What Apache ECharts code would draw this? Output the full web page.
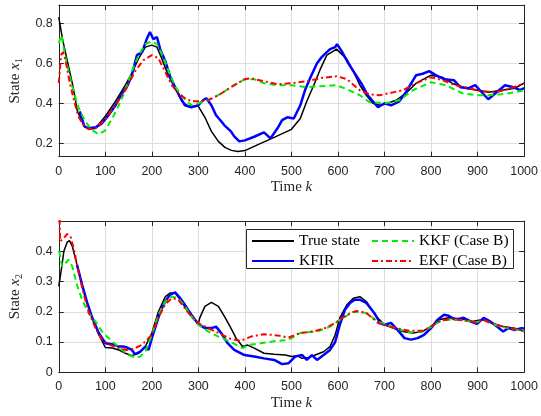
<!DOCTYPE html>
<html><head><meta charset="utf-8">
<script src="https://cdn.jsdelivr.net/npm/echarts@6/dist/echarts.min.js"></script>
<style>html,body{margin:0;padding:0;background:#fff}#c{width:541px;height:416px}</style>
</head><body><div id="c"></div>
<script>
// ---------- data (top: state x1) ----------
const xTickValues = [0,100,200,300,400,500,600,700,800,900,1000];
const yTicksTop = [0.2,0.4,0.6,0.8];
const yTicksBot = [0,0.1,0.2,0.3,0.4];
const seriesNames = ['True state','KFIR','KKF (Case B)','EKF (Case B)'];

const topTrueK = [0,8,19,30,40,55,65,79,100,122,143,157,172,186,200,211,221,235,250,264,279,300,314,328,343,357,371,385,400,434,463,500,519,533,548,562,576,597,619,633,647,661,675,690,700,725,746,768,800,824,845,874,900,923,952,980,1000];
const topTrueV = [0.83,0.72,0.605,0.49,0.36,0.285,0.27,0.275,0.335,0.41,0.49,0.55,0.625,0.68,0.69,0.68,0.625,0.54,0.475,0.41,0.385,0.385,0.33,0.26,0.21,0.18,0.165,0.159,0.164,0.20,0.23,0.27,0.324,0.41,0.49,0.57,0.64,0.67,0.62,0.56,0.49,0.44,0.40,0.39,0.395,0.415,0.45,0.50,0.54,0.53,0.50,0.475,0.465,0.455,0.465,0.475,0.50];

const topFirK = [45,55,65,79,93,107,122,136,146,157,168,179,189,196,203,211,218,229,239,250,261,271,285,300,310,317,328,338,349,356,370,377,388,400,420,441,455,470,480,491,505,519,530,541,555,565,576,583,594,598,608,622,633,650,664,675,686,700,714,732,746,768,782,796,810,828,849,863,881,895,909,923,941,959,977,991,1000];
const topFirV = [0.36,0.285,0.275,0.28,0.30,0.34,0.39,0.45,0.48,0.54,0.64,0.655,0.72,0.755,0.72,0.73,0.67,0.61,0.535,0.48,0.43,0.39,0.38,0.39,0.415,0.425,0.39,0.34,0.31,0.29,0.26,0.235,0.21,0.215,0.233,0.255,0.225,0.275,0.316,0.33,0.324,0.39,0.47,0.53,0.60,0.63,0.655,0.67,0.68,0.695,0.66,0.60,0.56,0.50,0.44,0.41,0.38,0.40,0.39,0.41,0.455,0.54,0.547,0.56,0.54,0.52,0.515,0.48,0.475,0.49,0.455,0.42,0.455,0.49,0.48,0.465,0.475];

const topKkfK = [0,6,12,23,33,43,57,72,86,100,115,129,143,157,172,186,200,211,225,239,254,271,285,300,321,350,377,400,420,441,470,500,533,562,597,619,647,668,700,732,761,800,832,867,900,923,952,980,1000];
const topKkfV = [0.70,0.74,0.655,0.54,0.45,0.375,0.31,0.265,0.245,0.265,0.325,0.39,0.465,0.56,0.64,0.695,0.71,0.695,0.63,0.54,0.47,0.42,0.39,0.40,0.415,0.45,0.49,0.52,0.52,0.50,0.49,0.49,0.48,0.485,0.49,0.47,0.44,0.405,0.40,0.415,0.465,0.505,0.49,0.45,0.44,0.44,0.445,0.455,0.465];

const topEkfK = [0,5,9,14,23,33,43,55,65,79,100,122,143,164,182,200,214,229,243,257,271,285,300,321,343,370,385,400,412,441,470,500,533,562,597,619,647,668,689,700,739,768,800,824,853,881,909,937,966,1000];
const topEkfV = [0.50,0.64,0.655,0.62,0.51,0.41,0.33,0.285,0.27,0.275,0.32,0.39,0.465,0.56,0.615,0.64,0.625,0.555,0.49,0.45,0.425,0.41,0.41,0.415,0.44,0.48,0.50,0.52,0.525,0.51,0.495,0.50,0.51,0.525,0.535,0.52,0.465,0.445,0.44,0.445,0.465,0.50,0.53,0.515,0.49,0.475,0.46,0.455,0.47,0.50];

// ---------- data (bottom: state x2) ----------
const botTrueK = [0,6,11,18,23,29,39,50,61,72,86,100,115,129,143,157,172,186,200,214,229,239,250,264,279,300,303,314,328,343,356,370,381,395,406,420,441,463,487,500,512,523,537,551,569,583,594,604,619,633,647,661,668,682,700,718,739,761,782,800,817,838,867,888,909,931,952,980,1000];
const botTrueV = [0.284,0.345,0.40,0.43,0.435,0.417,0.356,0.29,0.23,0.18,0.124,0.082,0.08,0.074,0.063,0.055,0.063,0.085,0.13,0.20,0.25,0.262,0.262,0.234,0.196,0.16,0.18,0.218,0.231,0.218,0.185,0.146,0.113,0.085,0.09,0.08,0.063,0.06,0.057,0.052,0.055,0.046,0.049,0.057,0.068,0.085,0.124,0.18,0.223,0.245,0.25,0.234,0.218,0.185,0.157,0.146,0.135,0.13,0.135,0.152,0.174,0.18,0.176,0.168,0.174,0.163,0.152,0.146,0.135];

const botFirK = [39,50,61,72,86,100,115,129,139,146,157,164,175,186,193,200,207,218,229,239,250,261,271,285,300,314,328,338,349,363,377,399,420,441,463,480,494,508,523,533,544,555,569,583,594,604,615,626,636,647,661,678,691,700,714,728,743,757,771,785,800,814,828,838,852,870,885,899,913,927,941,955,966,980,994,1000];
const botFirV = [0.356,0.29,0.23,0.18,0.13,0.096,0.093,0.085,0.085,0.082,0.074,0.06,0.068,0.085,0.074,0.113,0.146,0.20,0.234,0.256,0.264,0.245,0.223,0.19,0.159,0.146,0.146,0.151,0.13,0.096,0.074,0.057,0.052,0.046,0.041,0.027,0.03,0.052,0.057,0.041,0.057,0.041,0.057,0.074,0.10,0.157,0.207,0.229,0.24,0.24,0.229,0.196,0.162,0.157,0.163,0.14,0.113,0.108,0.113,0.124,0.146,0.174,0.19,0.187,0.174,0.18,0.168,0.16,0.18,0.168,0.152,0.135,0.146,0.14,0.146,0.145];

const botKkfK = [1,7,14,21,29,39,50,64,79,93,107,122,136,150,164,175,186,200,214,229,243,257,271,285,300,321,343,370,395,406,434,470,494,519,555,583,604,633,661,686,700,725,753,782,800,821,845,874,895,913,931,952,980,1000];
const botKkfV = [0.40,0.35,0.36,0.372,0.35,0.29,0.24,0.196,0.168,0.135,0.113,0.093,0.074,0.057,0.049,0.052,0.068,0.124,0.19,0.234,0.25,0.245,0.218,0.185,0.157,0.135,0.118,0.10,0.08,0.09,0.096,0.104,0.107,0.13,0.135,0.151,0.173,0.20,0.196,0.168,0.16,0.145,0.132,0.135,0.15,0.17,0.175,0.17,0.165,0.172,0.16,0.15,0.142,0.135];

const botEkfK = [0,3,11,18,25,32,43,54,64,79,93,111,129,146,160,178,200,214,229,243,257,271,285,300,321,343,370,391,413,441,470,494,519,548,576,597,619,640,661,686,700,725,753,782,800,821,845,874,895,913,931,952,980,1000];
const botEkfV = [0.60,0.433,0.444,0.457,0.45,0.41,0.328,0.256,0.20,0.146,0.107,0.09,0.08,0.074,0.077,0.09,0.124,0.18,0.225,0.245,0.24,0.212,0.185,0.162,0.146,0.13,0.11,0.104,0.118,0.126,0.122,0.115,0.13,0.135,0.148,0.166,0.19,0.203,0.196,0.163,0.157,0.146,0.137,0.137,0.152,0.171,0.176,0.171,0.165,0.174,0.16,0.152,0.143,0.14];

// ---------- build ----------
const pairs = (ks, vs) => ks.map((k, i) => [k, vs[i]]);
const INK = '#262626';
const TICKFONT = 'Liberation Sans, Arial, sans-serif';
const SERIF = 'Liberation Serif, Times New Roman, serif';
const styles = [
  {color:'#000000', width:1.5, type:'solid'},
  {color:'#0000ff', width:2.5, type:'solid'},
  {color:'#00ee00', width:2, type:[6,4]},
  {color:'#ff0000', width:2, type:[6,3,2,3]}
];
const fmt = v => String(Math.round(v * 1000) / 1000);

function mkSeries(gi, ksList, vsList) {
  return ksList.map((ks, i) => ({
    type:'line', name: seriesNames[i], xAxisIndex: gi*2, yAxisIndex: gi*2,
    data: pairs(ks, vsList[i]), symbol:'none', showSymbol:false, animation:false,
    lineStyle: {color: styles[i].color, width: styles[i].width, type: styles[i].type},
    itemStyle: {color: styles[i].color},
    clip: true, z: 2 + i*0.01
  }));
}

const axisNameRich = {
  t:{fontFamily:SERIF, fontSize:15, color:INK},
  i:{fontFamily:SERIF, fontSize:15, fontStyle:'italic', color:INK},
  s:{fontFamily:SERIF, fontSize:10, color:INK, padding:[8,0,0,0]}
};

function mkX(gi, pos) {
  const main = pos === 'bottom';
  return {
    type:'value', gridIndex:gi, position:pos, min:0, max:1000, interval:100,
    axisLine:{show:true, onZero:false, lineStyle:{color:INK, width:1}},
    axisTick:{show:true, inside:true, length:5, lineStyle:{color:INK}},
    axisLabel:{show:main, color:INK, fontFamily:TICKFONT, fontSize:12.5, margin:8, formatter:fmt},
    splitLine:{show:main, lineStyle:{color:'#dedede', width:1}},
    name: main ? '{t|Time }{i|k}' : '', nameLocation:'middle', nameGap:23,
    nameTextStyle:{rich: axisNameRich}
  };
}
function mkY(gi, pos, cfg) {
  const main = pos === 'left';
  const ax = {
    type:'value', gridIndex:gi, position:pos, min:cfg.min, max:cfg.max,
    axisLine:{show:true, onZero:false, lineStyle:{color:INK, width:1}},
    axisTick:{show:true, inside:true, length:5, lineStyle:{color:INK}},
    axisLabel:{show:main, color:INK, fontFamily:TICKFONT, fontSize:12.5, margin:6, formatter:fmt},
    splitLine:{show:main, lineStyle:{color:'#dedede', width:1}},
    name: main ? cfg.name : '', nameLocation:'middle', nameGap:33, nameRotate:90,
    nameTextStyle:{rich: axisNameRich}
  };
  if (cfg.custom) {
    ax.axisTick.customValues = cfg.ticks;
    ax.axisLabel.customValues = cfg.ticks;
  } else {
    ax.interval = cfg.interval;
    ax.axisLabel.showMaxLabel = false;
  }
  return ax;
}

const topCfg = {min:0.1335, max:0.89, custom:true, ticks:yTicksTop, name:'{t|State }{i|x}{s|1}'};
const botCfg = {min:0, max:0.5, interval:0.1, custom:false, ticks:yTicksBot, name:'{t|State }{i|x}{s|2}'};

const legendCommon = {
  orient:'vertical', padding:0, itemWidth:42, itemHeight:14, itemGap:4,
  itemStyle:{opacity:0},
  textStyle:{fontFamily:SERIF, fontSize:15.5, color:'#000', lineHeight:14},
  selectedMode:false, top:233
};

const option = {
  animation:false,
  backgroundColor:'#ffffff',
  grid:[
    {left:56, right:15, top:5, height:151.7, containLabel:false},
    {left:56, right:15, top:221, height:151.3, containLabel:false}
  ],
  xAxis:[mkX(0,'bottom'), mkX(0,'top'), mkX(1,'bottom'), mkX(1,'top')],
  yAxis:[mkY(0,'left',topCfg), mkY(0,'right',topCfg), mkY(1,'left',botCfg), mkY(1,'right',botCfg)],
  legend:[
    Object.assign({}, legendCommon, {left:251, data:['True state','KFIR']}),
    Object.assign({}, legendCommon, {left:371, data:['KKF (Case B)','EKF (Case B)']})
  ],
  graphic:[{type:'rect', z:3, shape:{x:246.5, y:229.5, width:267, height:39},
    style:{fill:'#ffffff', stroke:INK, lineWidth:1}}],
  series:[
    ...mkSeries(0, [topTrueK, topFirK, topKkfK, topEkfK], [topTrueV, topFirV, topKkfV, topEkfV]),
    ...mkSeries(1, [botTrueK, botFirK, botKkfK, botEkfK], [botTrueV, botFirV, botKkfV, botEkfV])
  ]
};
const chart = echarts.init(document.getElementById('c'), null, {renderer:'canvas'});
chart.setOption(option);
</script>
</body></html>
